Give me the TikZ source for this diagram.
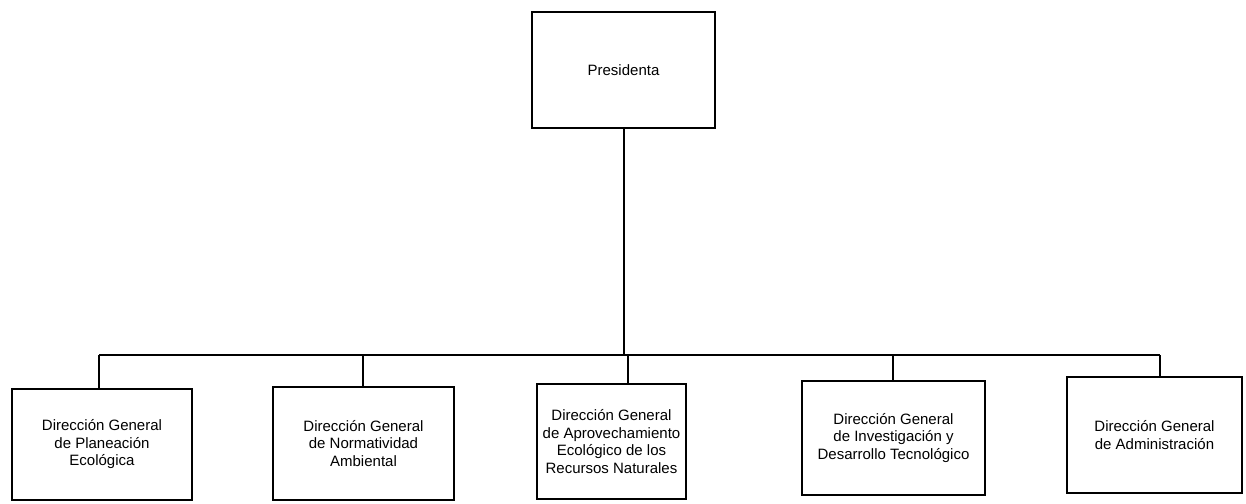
\documentclass[tikz,border=0pt]{standalone}
\usepackage{fontspec}
\setmainfont{Liberation Sans}
\begin{document}
\begin{tikzpicture}[x=1pt,y=-1pt,
  orgbox/.style={draw, line width=1.5pt, align=center, inner sep=0pt,
    font=\fontsize{15}{17.5}\selectfont},
  link/.style={line width=1.5pt}]
\useasboundingbox (0,0) rectangle (1246,503);
% top box
\node[orgbox, minimum width=183pt, minimum height=116pt] (pres) at (623.5,70) {Presidenta};
% five directorates
\node[orgbox, minimum width=180pt, minimum height=111pt] (d1) at (102,444.5)
  {Dirección General\\de Planeación\\Ecológica};
\node[orgbox, minimum width=181pt, minimum height=113pt] (d2) at (363.5,443.5)
  {Dirección General\\de Normatividad\\Ambiental};
\node[orgbox, minimum width=149pt, minimum height=115pt] (d3) at (611.5,441.5)
  {Dirección General\\de Aprovechamiento\\Ecológico de los\\Recursos Naturales};
\node[orgbox, minimum width=183pt, minimum height=114pt] (d4) at (893.5,438)
  {Dirección General\\de Investigación y\\Desarrollo Tecnológico};
\node[orgbox, minimum width=175pt, minimum height=116pt] (d5) at (1154.5,435)
  {Dirección General\\de Administración};
% bus line with drops to each directorate
\coordinate (busL) at (99,355);
\coordinate (busR) at (1160,355);
\coordinate (busM) at (624,355);
\coordinate (drop2) at (363,355);
\coordinate (drop3) at (628,355);
\coordinate (drop4) at (893,355);
\draw[link] (busL) -- (busR);
\draw[link] (pres.south -| busM) -- (busM);
\draw[link] (busL) -- (busL |- d1.north);
\draw[link] (drop2) -- (drop2 |- d2.north);
\draw[link] (drop3) -- (drop3 |- d3.north);
\draw[link] (drop4) -- (drop4 |- d4.north);
\draw[link] (busR) -- (busR |- d5.north);
\end{tikzpicture}
\end{document}
